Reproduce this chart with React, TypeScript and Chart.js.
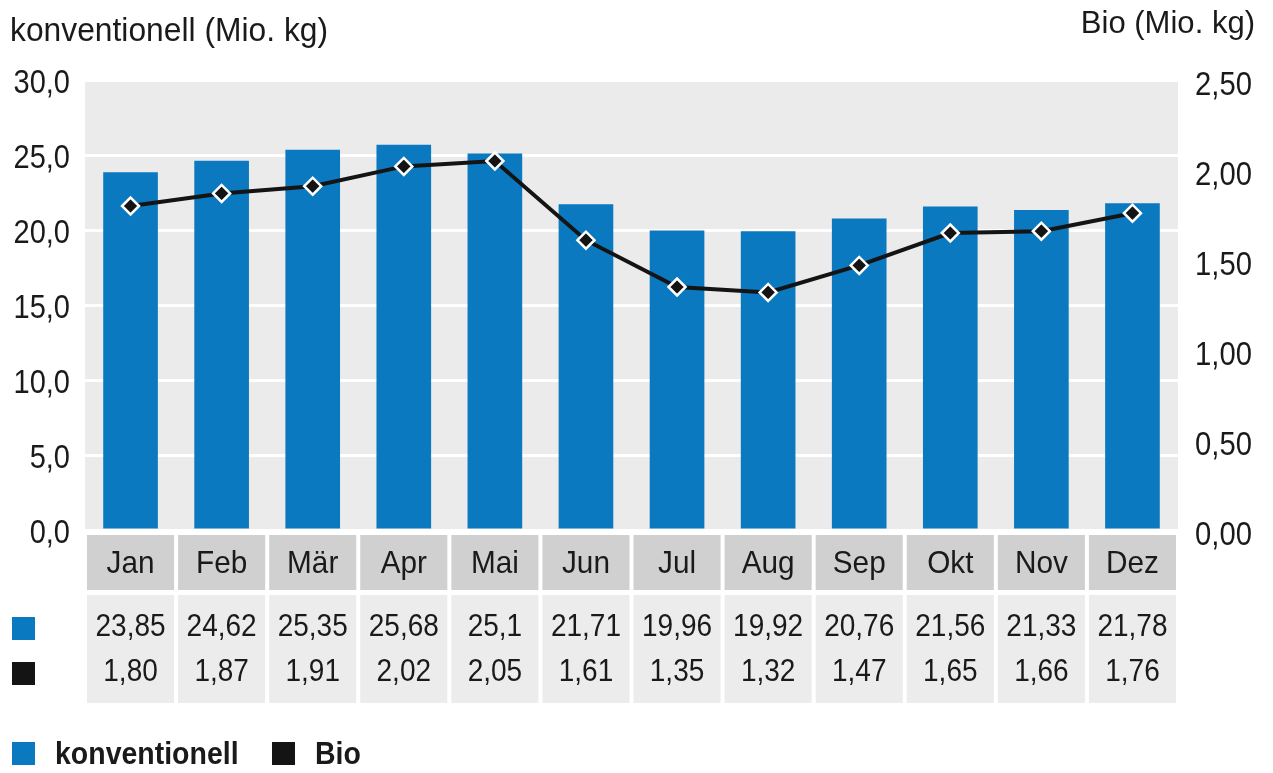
import React, { useEffect, useRef } from 'react';
import { Chart, registerables } from 'chart.js';

Chart.register(...registerables);

const months = ['Jan', 'Feb', 'Mär', 'Apr', 'Mai', 'Jun', 'Jul', 'Aug', 'Sep', 'Okt', 'Nov', 'Dez'];
const konventionell = [23.85, 24.62, 25.35, 25.68, 25.1, 21.71, 19.96, 19.92, 20.76, 21.56, 21.33, 21.78];
const bio = [1.8, 1.87, 1.91, 2.02, 2.05, 1.61, 1.35, 1.32, 1.47, 1.65, 1.66, 1.76];
const seriesNames = ['konventionell', 'Bio'];
const leftTitle = 'konventionell (Mio. kg)';
const rightTitle = 'Bio (Mio. kg)';

const BLUE = '#0a79bf';
const BLACK = '#141414';
const TEXT = '#1a1a1a';
const FONT = "'Liberation Sans', Arial, sans-serif";

const fmtConv = (v: number) => String(v).replace('.', ',');
const fmtBio = (v: number) => v.toFixed(2).replace('.', ',');
const fmtLeft = (v: number) => v.toFixed(1).replace('.', ',');
const fmtRight = (v: number) => v.toFixed(2).replace('.', ',');

// condensed-looking text: regular face squeezed horizontally
function txt(
  ctx: CanvasRenderingContext2D,
  s: string,
  x: number,
  y: number,
  align: CanvasTextAlign,
  size: number,
  sx: number,
  bold = false,
  baseline: CanvasTextBaseline = 'middle'
) {
  ctx.save();
  ctx.translate(x, y);
  ctx.scale(sx, 1);
  ctx.font = `${bold ? 'bold ' : ''}${size}px ${FONT}`;
  ctx.textAlign = align;
  ctx.textBaseline = baseline;
  ctx.fillStyle = TEXT;
  ctx.fillText(s, 0, 0);
  ctx.restore();
}

const decor = {
  id: 'decor',
  beforeDraw(chart: any) {
    const { ctx, chartArea: a, scales } = chart;
    const x = scales.x;
    const w = x.getPixelForValue(1) - x.getPixelForValue(0);
    ctx.save();
    ctx.fillStyle = '#ebebeb';
    ctx.fillRect(a.left, a.top, a.right - a.left, a.bottom - a.top);
    months.forEach((_m, i) => {
      const cx = x.getPixelForValue(i);
      ctx.fillStyle = '#d0d0d0';
      ctx.fillRect(cx - w / 2 + 2, a.bottom + 5, w - 4, 55);
      ctx.fillStyle = '#ececec';
      ctx.fillRect(cx - w / 2 + 2, a.bottom + 65, w - 4, 108);
    });
    ctx.restore();
  },
  afterDraw(chart: any) {
    const { ctx, chartArea: a, scales } = chart;
    const x = scales.x;
    const y = scales.y;
    const y1 = scales.y1;

    // axis tick labels, from the scales' own ticks
    y.ticks.forEach((t: any, i: number) => {
      txt(ctx, fmtLeft(t.value), a.left - 15, y.getPixelForTick(i) + 4, 'right', 33, 0.88);
    });
    y1.ticks.forEach((t: any, i: number) => {
      txt(ctx, fmtRight(t.value), a.right + 17, y1.getPixelForTick(i) + 6, 'left', 34, 0.86);
    });
    months.forEach((m, i) => {
      const cx = x.getPixelForValue(i);
      txt(ctx, m, cx, a.bottom + 34, 'center', 32, 0.93);
      txt(ctx, fmtConv(konventionell[i]), cx, a.bottom + 97, 'center', 32, 0.875);
      txt(ctx, fmtBio(bio[i]), cx, a.bottom + 142, 'center', 32, 0.875);
    });

    ctx.save();
    // row markers of the table
    ctx.fillStyle = BLUE;
    ctx.fillRect(12, a.bottom + 87, 23, 23);
    ctx.fillStyle = BLACK;
    ctx.fillRect(12, a.bottom + 132, 23, 23);
    // legend squares
    ctx.fillStyle = BLUE;
    ctx.fillRect(12, 742, 23, 23);
    ctx.fillStyle = BLACK;
    ctx.fillRect(272, 742, 23, 23);
    ctx.restore();

    // axis titles
    txt(ctx, leftTitle, 10, 41, 'left', 34, 0.935, false, 'alphabetic');
    txt(ctx, rightTitle, 1255, 33, 'right', 32, 0.97, false, 'alphabetic');

    // legend labels
    txt(ctx, seriesNames[0], 55, 755, 'left', 32, 0.89, true);
    txt(ctx, seriesNames[1], 315, 755, 'left', 32, 0.89, true);
  },
};

export default function App() {
  const ref = useRef<HTMLCanvasElement | null>(null);
  useEffect(() => {
    if (!ref.current) return;
    const chart = new Chart(ref.current, {
      type: 'bar',
      data: {
        labels: months,
        datasets: [
          {
            type: 'line',
            label: seriesNames[1],
            data: bio,
            yAxisID: 'y1',
            borderColor: BLACK,
            backgroundColor: BLACK,
            borderWidth: 4,
            pointStyle: 'rectRot',
            pointRadius: 8.5,
            pointBackgroundColor: BLACK,
            pointBorderColor: '#ffffff',
            pointBorderWidth: 2.5,
            tension: 0,
            order: 0,
          } as any,
          {
            type: 'bar',
            label: seriesNames[0],
            data: konventionell,
            yAxisID: 'y',
            backgroundColor: BLUE,
            borderWidth: 0,
            categoryPercentage: 0.6,
            barPercentage: 1,
            order: 1,
          },
        ],
      },
      options: {
        responsive: false,
        animation: false,
        devicePixelRatio: 1,
        layout: { padding: { top: 80, bottom: 63, left: 0, right: 0 } },
        plugins: {
          legend: { display: false },
          tooltip: { enabled: false },
        },
        scales: {
          x: {
            grid: { display: false, drawTicks: false },
            border: { display: false },
            ticks: { display: false, autoSkip: false },
            afterFit(scale: any) {
              scale.height = 180;
            },
          },
          y: {
            position: 'left',
            min: 0,
            max: 30,
            grid: { color: '#ffffff', lineWidth: 3, drawTicks: false },
            border: { display: false },
            ticks: { display: false, stepSize: 5 },
            afterFit(scale: any) {
              scale.width = 85;
            },
          },
          y1: {
            position: 'right',
            min: 0,
            max: 2.5,
            grid: { display: false, drawTicks: false },
            border: { display: false },
            ticks: { display: false, stepSize: 0.5 },
            afterFit(scale: any) {
              scale.width = 95;
            },
          },
        },
      },
      plugins: [decor],
    });
    return () => chart.destroy();
  }, []);

  return (
    <div style={{ position: 'absolute', left: 0, top: 0, width: 1273, height: 773, background: '#fff' }}>
      <canvas ref={ref} width={1273} height={773} style={{ display: 'block' }} />
    </div>
  );
}
